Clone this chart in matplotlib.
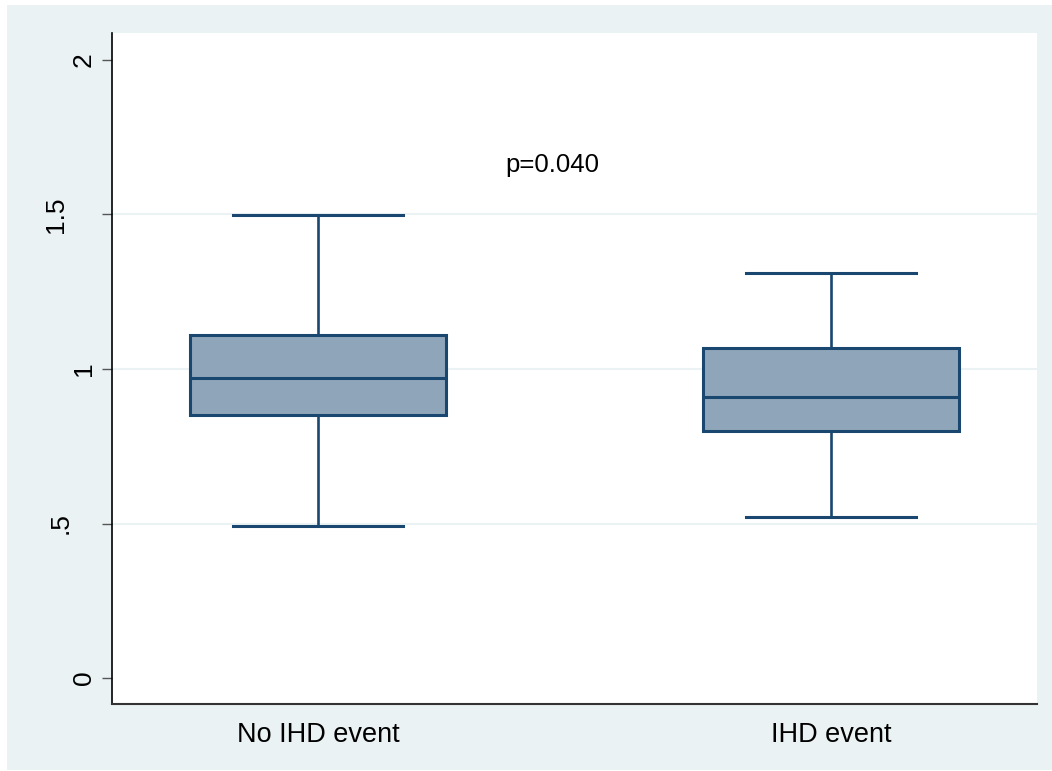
import matplotlib
matplotlib.use("Agg")
import matplotlib.pyplot as plt
import matplotlib.transforms as mtransforms
from matplotlib.patches import Rectangle

plt.rcParams['font.family'] = ['Liberation Sans', 'DejaVu Sans']

categories = ["No IHD event", "IHD event"]
whislo = [0.492, 0.520]
q1 = [0.851, 0.800]
med = [0.972, 0.910]
q3 = [1.110, 1.068]
whishi = [1.499, 1.310]
yticks = [0, 0.5, 1, 1.5, 2]
yticklabels = ["0", ".5", "1", "1.5", "2"]
annotation = "p=0.040"

# style: extra leftward shift (pixels) of each rotated y label, as in the reference
label_shift_px = [0, 22.7, 0, 27.7, 0]

bg = "#EAF2F3"
navy = "#1A476F"
fill = "#8FA5BA"

fig = plt.figure(figsize=(10.52, 7.71), dpi=100)
fig.patch.set_facecolor("white")
fig.patches.append(Rectangle((7/1052, 1/771), 1 - 7/1052, 1 - 6/771,
                             transform=fig.transFigure, facecolor=bg,
                             edgecolor="none", zorder=-10))

ax = fig.add_axes([112/1052, (771-704)/771, (1037-112)/1052, (704-33)/771])
ax.set_zorder(5)
ax.set_facecolor("white")

stats = []
for i in range(len(categories)):
    stats.append(dict(whislo=whislo[i], q1=q1[i], med=med[i], q3=q3[i],
                      whishi=whishi[i], fliers=[], label=categories[i]))

ax.bxp(stats, positions=[1, 2], widths=0.5, patch_artist=True,
       showfliers=False,
       boxprops=dict(facecolor=fill, edgecolor=navy, linewidth=2.2),
       medianprops=dict(color=navy, linewidth=2.2),
       whiskerprops=dict(color=navy, linewidth=1.9),
       capprops=dict(color=navy, linewidth=2.2),
       capwidths=0.333, zorder=3)

ax.set_xlim(0.598, 2.402)
ax.set_ylim(-0.084, 2.087)

for g in [0.5, 1.0, 1.5]:
    ax.axhline(g, color=bg, linewidth=1.5, zorder=1)

ax.set_yticks(yticks)
ax.set_yticklabels([])
ax.tick_params(axis="y", length=7.2, width=1.0, color="#555555")
ax.tick_params(axis="x", length=0, pad=13, labelsize=19.5)
ax.set_xticks([1, 2])
ax.set_xticklabels(categories)

# rotated y tick labels: baseline (right side of glyphs) at ~90.7 px
base_x = (90.7 - 112) / 925
ytrans = ax.get_yaxis_transform()
for val, lab, sh in zip(yticks, yticklabels, label_shift_px):
    tr = ytrans + mtransforms.ScaledTranslation(-sh / 100, 0, fig.dpi_scale_trans)
    ax.text(base_x, val, lab, transform=tr, rotation=90,
            rotation_mode="anchor", ha="center", va="baseline",
            fontsize=19, clip_on=False)

for s in ["top", "right"]:
    ax.spines[s].set_visible(False)
ax.spines["left"].set_color("black")
ax.spines["left"].set_linewidth(1.2)
ax.spines["bottom"].set_color("#333333")
ax.spines["bottom"].set_linewidth(1.5)

ax.text(1.456, 1.66, annotation, ha="center", va="center", fontsize=18.5)

fig.savefig("out.png", dpi=100, facecolor=fig.get_facecolor())
